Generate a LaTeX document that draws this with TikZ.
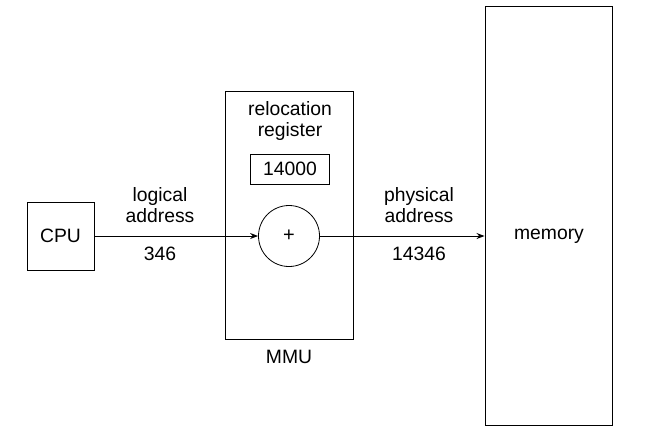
\documentclass[tikz,border=0pt]{standalone}
\usepackage{fontspec}
\setmainfont{Liberation Sans}
\usetikzlibrary{arrows.meta}
\begin{document}
\begin{tikzpicture}[x=0.75pt,y=-0.75pt,
  box/.style={draw, line width=0.6pt, inner sep=0pt},
  lbl/.style={font=\fontsize{14.5}{16.3}\selectfont, align=center, inner sep=0pt},
  link/.style={line width=0.75pt, -{Stealth[length=6pt,width=4.5pt]}}]
  \useasboundingbox (0,0) rectangle (670,437);
  % blocks
  \node[box, lbl, minimum width=50.25pt, minimum height=51pt] (cpu) at (60.5,236) {CPU};
  \node[box, minimum width=95.5pt, minimum height=185.5pt] (mmu) at (289.3,215.3) {};
  \node[box, lbl, minimum width=59pt, minimum height=22.5pt] (reg) at (290,169) {14000};
  \node[box, circle, minimum size=45.75pt, font=\fontsize{15}{17}\selectfont] (adder) at (289,236) {+};
  \node[box, minimum width=95.8pt, minimum height=314.3pt] (mem) at (548.8,215.5) {};
  % labels
  \node[lbl] (memlbl) at (549,236) {memory};
  \node[lbl] (reglbl) at (290,121) {relocation\\register};
  \node[lbl] (mmulbl) at (289,357) {MMU};
  \node[lbl] (logical) at (160,205) {logical\\address};
  \node[lbl] (lognum) at (160,254) {346};
  \node[lbl] (physical) at (419,205) {physical\\address};
  \node[lbl] (physnum) at (419,254) {14346};
  % connectors
  \draw[link] (cpu) -- (adder);
  \draw[link] (adder.east) -- (adder.east -| mem.west);
\end{tikzpicture}
\end{document}
